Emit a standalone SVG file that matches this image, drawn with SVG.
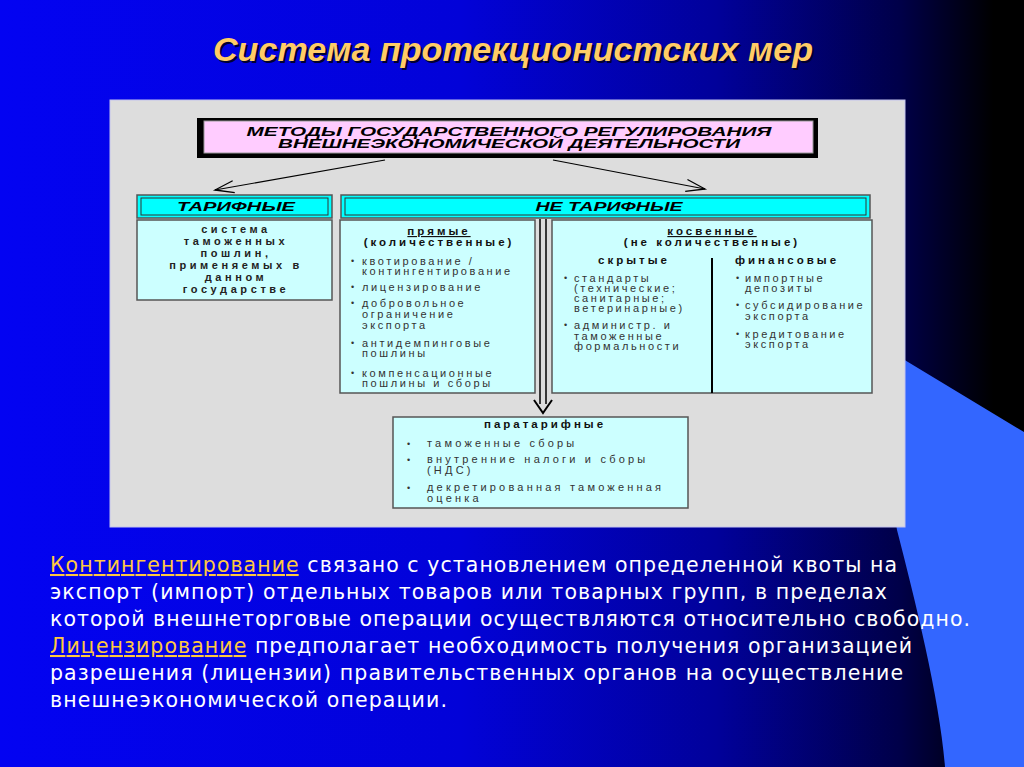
<svg xmlns="http://www.w3.org/2000/svg" width="1024" height="767" viewBox="0 0 1024 767">
<defs>
<linearGradient id="bg" x1="0" y1="0" x2="1" y2="0">
<stop offset="0" stop-color="#0303f2"/>
<stop offset="0.45" stop-color="#0202d8"/>
<stop offset="0.7" stop-color="#01019a"/>
<stop offset="0.88" stop-color="#000048"/>
<stop offset="0.97" stop-color="#000000"/>
</linearGradient>
<marker id="open" markerUnits="userSpaceOnUse" markerWidth="24" markerHeight="14" refX="21" refY="7" orient="auto">
<path d="M2,1 L21,7 L2,13" fill="none" stroke="#000" stroke-width="1.3"/>
</marker>
<style>
.hb{font-family:"Liberation Sans",Arial,sans-serif;font-weight:bold;font-style:italic;font-size:12.5px;fill:#000;text-anchor:middle}
.tb{font-family:"Liberation Sans",Arial,sans-serif;font-weight:bold;font-size:11px;letter-spacing:3.6px;fill:#222;text-anchor:middle}
.b{font-family:"Liberation Sans",Arial,sans-serif;font-weight:bold;font-size:11.5px;letter-spacing:3px;fill:#111;text-anchor:middle}
.r{font-family:"Liberation Sans",Arial,sans-serif;font-size:11px;letter-spacing:2.6px;fill:#333}
.rp{font-family:"Liberation Sans",Arial,sans-serif;font-size:11px;letter-spacing:3.2px;fill:#333}
.dot{font-family:"Liberation Sans",Arial,sans-serif;font-size:9px;fill:#333}
.box{fill:#ccffff;stroke:#555;stroke-width:1.5}
.hdr{fill:#00ffff;stroke:#555;stroke-width:1.5}
.hin{fill:none;stroke:#333;stroke-width:1}
.t{font-family:"DejaVu Sans",Verdana,sans-serif;font-size:20.5px;fill:#ffffff}
.o{fill:#ffc840;text-decoration:underline}
</style>
</defs>

<g id="background">
<rect x="0" y="0" width="1024" height="767" fill="url(#bg)"/>
<path d="M860 333 L1024 432 L1024 767 L945 767 C940 700 915 600 897 530 L880 420 Z" fill="#3366ff"/>
</g>

<g id="title">
<text x="515" y="63" font-family="'Liberation Sans',Arial,sans-serif" font-weight="bold" font-style="italic" font-size="34" fill="#000033" text-anchor="middle" textLength="600" lengthAdjust="spacingAndGlyphs">Система протекционистских мер</text>
<text x="513" y="61" font-family="'Liberation Sans',Arial,sans-serif" font-weight="bold" font-style="italic" font-size="34" fill="#ffcc66" text-anchor="middle" textLength="600" lengthAdjust="spacingAndGlyphs">Система протекционистских мер</text>
</g>

<g id="panel">
<rect x="110" y="100" width="795" height="427" fill="#dddddd" stroke="#c4c4ee" stroke-width="1"/>
</g>

<g id="node-methods">
<rect x="197" y="118" width="621" height="40" fill="#000"/>
<rect x="204" y="121" width="609" height="32" fill="#ffccff" stroke="#999" stroke-width="1"/>
<text class="hb" x="509" y="136" textLength="525" lengthAdjust="spacingAndGlyphs">МЕТОДЫ ГОСУДАРСТВЕННОГО РЕГУЛИРОВАНИЯ</text>
<text class="hb" x="509" y="148" textLength="462" lengthAdjust="spacingAndGlyphs">ВНЕШНЕЭКОНОМИЧЕСКОЙ ДЕЯТЕЛЬНОСТИ</text>
</g>

<g id="node-tariff">
<rect class="hdr" x="137" y="195" width="195" height="23"/>
<rect class="hin" x="141" y="198" width="187" height="17"/>
<text class="hb" x="236" y="211" textLength="118" lengthAdjust="spacingAndGlyphs">ТАРИФНЫЕ</text>
</g>

<g id="node-nontariff">
<rect class="hdr" x="341" y="195" width="529" height="23"/>
<rect class="hin" x="345" y="198" width="521" height="17"/>
<text class="hb" x="609" y="211" textLength="147" lengthAdjust="spacingAndGlyphs">НЕ ТАРИФНЫЕ</text>
</g>

<g id="node-tariff-body">
<rect class="box" x="137" y="220" width="195" height="80"/>
<text class="tb" x="236" y="233">система</text>
<text class="tb" x="236" y="245">таможенных</text>
<text class="tb" x="236" y="257">пошлин,</text>
<text class="tb" x="236" y="269">применяемых в</text>
<text class="tb" x="236" y="281">данном</text>
<text class="tb" x="236" y="293">государстве</text>
</g>

<g id="node-direct">
<rect class="box" x="340" y="220" width="195" height="173"/>
<text class="b" x="439" y="235" text-decoration="underline">прямые</text>
<text class="b" x="439" y="246">(количественные)</text>
<text class="dot" x="351" y="264">•</text>
<text class="r" x="362" y="265">квотирование /</text>
<text class="r" x="362" y="275">контингентирование</text>
<text class="dot" x="351" y="290">•</text>
<text class="r" x="362" y="291">лицензирование</text>
<text class="dot" x="351" y="306">•</text>
<text class="r" x="362" y="307">добровольное</text>
<text class="r" x="362" y="318">ограничение</text>
<text class="r" x="362" y="329">экспорта</text>
<text class="dot" x="351" y="346">•</text>
<text class="r" x="362" y="347">антидемпинговые</text>
<text class="r" x="362" y="357">пошлины</text>
<text class="dot" x="351" y="376">•</text>
<text class="r" x="362" y="377">компенсационные</text>
<text class="r" x="362" y="387">пошлины и сборы</text>
</g>

<g id="node-indirect">
<rect class="box" x="552" y="220" width="320" height="173"/>
<line x1="712" y1="258" x2="712" y2="393" stroke="#000" stroke-width="2"/>
<text class="b" x="712" y="235" text-decoration="underline">косвенные</text>
<text class="b" x="712" y="246">(не количественные)</text>
<text class="b" x="634" y="264">скрытые</text>
<text class="b" x="787" y="264">финансовые</text>
<text class="dot" x="564" y="281">•</text>
<text class="r" x="574" y="282">стандарты</text>
<text class="r" x="574" y="292">(технические;</text>
<text class="r" x="574" y="302">санитарные;</text>
<text class="r" x="574" y="312">ветеринарные)</text>
<text class="dot" x="564" y="328">•</text>
<text class="r" x="574" y="329">администр. и</text>
<text class="r" x="574" y="340">таможенные</text>
<text class="r" x="574" y="350">формальности</text>
<text class="dot" x="736" y="281">•</text>
<text class="r" x="745" y="282">импортные</text>
<text class="r" x="745" y="292">депозиты</text>
<text class="dot" x="736" y="308">•</text>
<text class="r" x="745" y="309">субсидирование</text>
<text class="r" x="745" y="320">экспорта</text>
<text class="dot" x="736" y="337">•</text>
<text class="r" x="745" y="338">кредитование</text>
<text class="r" x="745" y="348">экспорта</text>
</g>

<g id="node-paratariff">
<rect class="box" x="393" y="417" width="295" height="91"/>
<text class="b" x="545" y="428">паратарифные</text>
<text class="dot" x="407" y="447">•</text>
<text class="rp" x="427" y="447">таможенные сборы</text>
<text class="dot" x="407" y="463">•</text>
<text class="rp" x="427" y="463">внутренние налоги и сборы</text>
<text class="rp" x="427" y="474">(НДС)</text>
<text class="dot" x="407" y="491">•</text>
<text class="rp" x="427" y="491">декретированная таможенная</text>
<text class="rp" x="427" y="502">оценка</text>
</g>

<g id="connectors" fill="none" stroke="#000">
<line x1="385" y1="160" x2="215" y2="190" stroke-width="1.2" marker-end="url(#open)"/>
<line x1="553" y1="160" x2="705" y2="189" stroke-width="1.2" marker-end="url(#open)"/>
<line x1="540" y1="219" x2="540" y2="404" stroke-width="1.5"/>
<line x1="546" y1="219" x2="546" y2="404" stroke-width="1.5"/>
<polyline points="534,400 543,413 552,400" stroke-width="2"/>
</g>

<g id="notes">
<text class="t" x="50" y="572" textLength="847" lengthAdjust="spacing"><tspan class="o">Контингентирование</tspan> связано с установлением определенной квоты на</text>
<text class="t" x="50" y="599" textLength="837" lengthAdjust="spacing">экспорт (импорт) отдельных товаров или товарных групп, в пределах</text>
<text class="t" x="50" y="626" textLength="920" lengthAdjust="spacing">которой внешнеторговые операции осуществляются относительно свободно.</text>
<text class="t" x="50" y="653" textLength="862" lengthAdjust="spacing"><tspan class="o">Лицензирование</tspan> предполагает необходимость получения организацией</text>
<text class="t" x="50" y="680" textLength="853" lengthAdjust="spacing">разрешения (лицензии) правительственных органов на осуществление</text>
<text class="t" x="50" y="707" textLength="397" lengthAdjust="spacing">внешнеэкономической операции.</text>
</g>
</svg>
